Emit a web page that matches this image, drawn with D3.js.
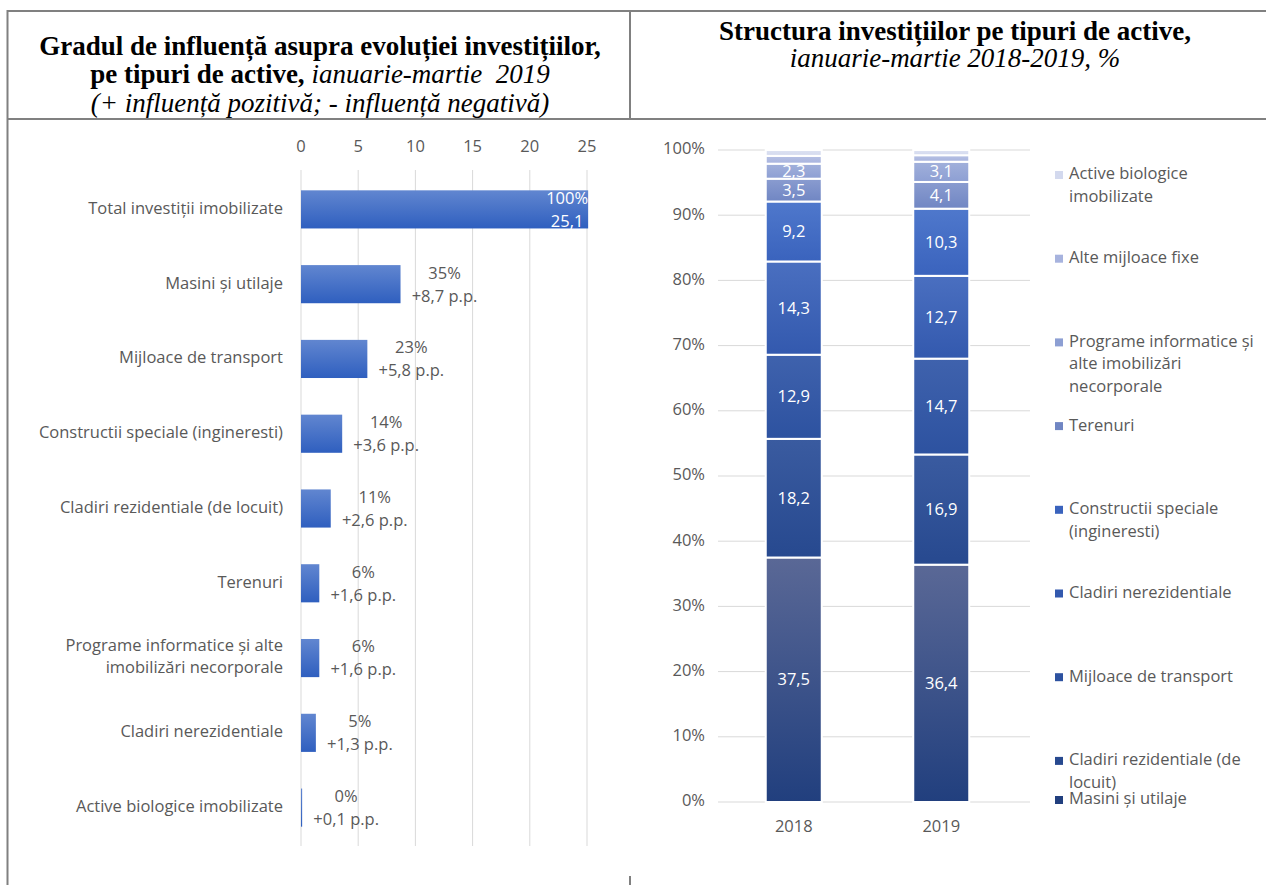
<!DOCTYPE html>
<html><head><meta charset="utf-8">
<script src="https://cdn.jsdelivr.net/npm/d3@7/dist/d3.min.js"></script>
<style>body{margin:0;background:#fff;}svg{display:block;}</style>
</head><body>
<svg id="c" width="1266" height="885"></svg>
<script>
// ---------- DATA ----------
const leftCategories = ["Total investiții imobilizate","Masini și utilaje","Mijloace de transport","Constructii speciale (ingineresti)","Cladiri rezidentiale (de locuit)","Terenuri","Programe informatice și alte|imobilizări necorporale","Cladiri nerezidentiale","Active biologice imobilizate"];
const leftValues = [25.1, 8.7, 5.8, 3.6, 2.6, 1.6, 1.6, 1.3, 0.1];
const leftShares = ["100%","35%","23%","14%","11%","6%","6%","5%","0%"];
const leftPP = ["25,1","+8,7 p.p.","+5,8 p.p.","+3,6 p.p.","+2,6 p.p.","+1,6 p.p.","+1,6 p.p.","+1,3 p.p.","+0,1 p.p."];
const leftTicks = [0,5,10,15,20,25];

const years = ["2018","2019"];
const seriesNames = ["Masini și utilaje","Cladiri rezidentiale (de locuit)","Mijloace de transport","Cladiri nerezidentiale","Constructii speciale (ingineresti)","Terenuri","Programe informatice și alte imobilizări necorporale","Alte mijloace fixe","Active biologice imobilizate"];
const values2018 = [37.5, 18.2, 12.9, 14.3, 9.2, 3.5, 2.3, 1.2, 0.9];
const values2019 = [36.4, 16.9, 14.7, 12.7, 10.3, 4.1, 3.1, 1.0, 0.8];
const seriesColors = ["#213f7e","#27498f","#2d52a0","#3359ae","#3a63bd","#7086c3","#8d9fd3","#a7b3de","#d3d9ee"];
const seriesTopColors = ["#5a6896","#3a5ba0","#3f62ad","#4a6fc0","#4f78cc","#8a9cd0","#a1b0db","#b7c1e4","#dde2f2"];
const legendLines = [["Active biologice","imobilizate"],["Alte mijloace fixe"],["Programe informatice și","alte imobilizări","necorporale"],["Terenuri"],["Constructii speciale","(ingineresti)"],["Cladiri nerezidentiale"],["Mijloace de transport"],["Cladiri rezidentiale (de","locuit)"],["Masini și utilaje"]];
const yTicks = [0,0.1,0.2,0.3,0.4,0.5,0.6,0.7,0.8,0.9,1.0];

// ---------- SETUP ----------
const svg = d3.select("#c");
const FONT = "'Open Sans', 'Noto Sans', sans-serif";
const FS = 16.5;
const SERIF = "'Liberation Serif', 'Times New Roman', serif";
const TFS = 27;
const TXT = "#595959";
const defs = svg.append("defs");

// borders
const border = svg.append("g").attr("stroke","#808080").attr("stroke-width",2);
border.append("line").attr("x1",7).attr("x2",1266).attr("y1",11).attr("y2",11);
border.append("line").attr("x1",7).attr("x2",1266).attr("y1",119).attr("y2",119);
border.append("line").attr("x1",7.5).attr("x2",7.5).attr("y1",10).attr("y2",885);
border.append("line").attr("x1",630).attr("x2",630).attr("y1",10).attr("y2",120);
border.append("line").attr("x1",630).attr("x2",630).attr("y1",876).attr("y2",885);

// titles
svg.append("text").attr("x",320).attr("y",55).attr("text-anchor","middle")
  .attr("font-family",SERIF).attr("font-size",TFS).attr("font-weight","bold").attr("fill","#000")
  .text("Gradul de influență asupra evoluției investițiilor,");
const t2 = svg.append("text").attr("x",320).attr("y",83).attr("text-anchor","middle")
  .attr("font-family",SERIF).attr("font-size",TFS).attr("fill","#000");
t2.append("tspan").attr("font-weight","bold").text("pe tipuri de active, ");
t2.append("tspan").attr("font-style","italic").text("ianuarie-martie\u00a0 2019");
svg.append("text").attr("x",320).attr("y",112).attr("text-anchor","middle")
  .attr("font-family",SERIF).attr("font-size",TFS).attr("font-style","italic").attr("fill","#000")
  .text("(+ influență pozitivă; - influență negativă)");
svg.append("text").attr("x",955).attr("y",40).attr("text-anchor","middle")
  .attr("font-family",SERIF).attr("font-size",TFS).attr("font-weight","bold").attr("fill","#000")
  .text("Structura investițiilor pe tipuri de active,");
svg.append("text").attr("x",955).attr("y",67).attr("text-anchor","middle")
  .attr("font-family",SERIF).attr("font-size",TFS).attr("font-style","italic").attr("fill","#000")
  .text("ianuarie-martie 2018-2019, %");

// ---------- LEFT CHART ----------
const x = d3.scaleLinear().domain([0,25]).range([301,587]);
const y = d3.scaleBand().domain(leftCategories).range([172,845]).paddingInner(0.49).paddingOuter(0.245);
const lg = svg.append("g");
lg.selectAll("line.grid").data(leftTicks).join("line")
  .attr("x1",d=>x(d)).attr("x2",d=>x(d)).attr("y1",170).attr("y2",846)
  .attr("stroke","#d9d9d9").attr("stroke-width",1);
lg.selectAll("text.tick").data(leftTicks).join("text")
  .attr("x",d=>x(d)).attr("y",148).attr("text-anchor","middle").attr("dominant-baseline","middle")
  .attr("font-family",FONT).attr("font-size",FS).attr("fill",TXT).text(d=>d);

const lgrad = defs.append("linearGradient").attr("id","lbar").attr("x1",0).attr("x2",0).attr("y1",0).attr("y2",1);
lgrad.append("stop").attr("offset","0%").attr("stop-color","#6186d0");
lgrad.append("stop").attr("offset","100%").attr("stop-color","#2f5fbf");

lg.selectAll("rect.bar").data(leftValues).join("rect")
  .attr("x",x(0)).attr("y",(d,i)=>y(leftCategories[i]))
  .attr("width",d=>x(d)-x(0)).attr("height",y.bandwidth()).attr("fill","url(#lbar)");

leftCategories.forEach((c,i)=>{
  const cy = y(c)+y.bandwidth()/2;
  const parts = c.split("|");
  const t = lg.append("text").attr("text-anchor","end").attr("font-family",FONT).attr("font-size",FS).attr("fill",TXT);
  parts.forEach((p,j)=>{
    t.append("tspan").attr("x",283).attr("y",cy + (j-(parts.length-1)/2)*22).attr("dominant-baseline","middle").text(p);
  });
  const inside = i===0;
  const lx = inside ? x(leftValues[i]) - 21 : x(leftValues[i]) + 44;
  const col = inside ? "#fff" : TXT;
  lg.append("text").attr("x",lx).attr("y",cy-10).attr("text-anchor","middle").attr("dominant-baseline","middle")
    .attr("font-family",FONT).attr("font-size",FS).attr("fill",col).text(leftShares[i]);
  lg.append("text").attr("x",lx).attr("y",cy+13).attr("text-anchor","middle").attr("dominant-baseline","middle")
    .attr("font-family",FONT).attr("font-size",FS).attr("fill",col).text(leftPP[i]);
});

// ---------- RIGHT CHART ----------
const yr = d3.scaleLinear().domain([0,1]).range([802,150]);
const xb = d3.scaleBand().domain(years).range([720,1015]);
const barW = 56;
const rg = svg.append("g");
rg.selectAll("line.g").data(yTicks).join("line")
  .attr("x1",718).attr("x2",1030).attr("y1",d=>yr(d)).attr("y2",d=>yr(d))
  .attr("stroke","#d9d9d9").attr("stroke-width",1);
rg.selectAll("text.yt").data(yTicks).join("text")
  .attr("x",705).attr("y",d=>yr(d)).attr("text-anchor","end").attr("dominant-baseline","middle")
  .attr("font-family",FONT).attr("font-size",FS).attr("fill",TXT).text(d=>Math.round(d*100)+"%");
rg.selectAll("text.xt").data(years).join("text")
  .attr("x",d=>xb(d)+xb.bandwidth()/2).attr("y",828).attr("text-anchor","middle").attr("dominant-baseline","middle")
  .attr("font-family",FONT).attr("font-size",FS).attr("fill",TXT).text(d=>d);

seriesColors.forEach((c,i)=>{
  const g = defs.append("linearGradient").attr("id","s"+i).attr("x1",0).attr("x2",0).attr("y1",0).attr("y2",1);
  g.append("stop").attr("offset","0%").attr("stop-color",seriesTopColors[i]);
  g.append("stop").attr("offset","100%").attr("stop-color",c);
});

const tableRows = years.map((yv,k)=>{
  const vals = k===0 ? values2018 : values2019;
  const row = {year:yv}; seriesNames.forEach((s,i)=>row[s]=vals[i]/100); return row;
});
const stacked = d3.stack().keys(seriesNames)(tableRows);
stacked.forEach((layer,i)=>{
  layer.forEach(seg=>{
    const yv = seg.data.year;
    const cx = xb(yv)+xb.bandwidth()/2;
    rg.append("rect").attr("x",cx-barW/2).attr("y",yr(seg[1])).attr("width",barW)
      .attr("height",yr(seg[0])-yr(seg[1])).attr("fill",`url(#s${i})`)
      .attr("stroke","#fff").attr("stroke-width",2);
    const v = seg[1]-seg[0];
    if (i < 7) {
      rg.append("text").attr("x",cx).attr("y",(yr(seg[0])+yr(seg[1]))/2 + 1)
        .attr("text-anchor","middle").attr("dominant-baseline","middle")
        .attr("font-family",FONT).attr("font-size",FS).attr("fill","#fff")
        .text(d3.format(".1f")(v*100).replace(".",","));
    }
  });
});

// legend (top entry = last series)
const legendOrder = d3.range(seriesNames.length).reverse();
legendOrder.forEach((si,k)=>{
  const ly = k < 8 ? 175 + k*83.7 : 800;
  rg.append("rect").attr("x",1055).attr("y",ly-4).attr("width",8).attr("height",8).attr("fill",seriesColors[si]);
  const t = rg.append("text").attr("font-family",FONT).attr("font-size",FS).attr("fill",TXT);
  legendLines[k].forEach((p,j)=>{
    t.append("tspan").attr("x",1069).attr("y",ly + j*22.5).attr("dominant-baseline","middle").text(p);
  });
});
</script>
</body></html>
